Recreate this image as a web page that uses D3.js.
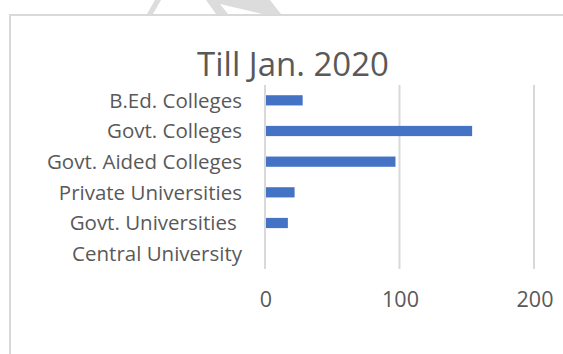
<!DOCTYPE html>
<html lang="en">
  <head>
    <meta charset="UTF-8" />
    <title>Till Jan. 2020</title>
    <script src="https://d3js.org/d3.v7.min.js"></script>
    <style>
      body {
        margin: 0;
        background: #fff;
        font-family: 'Open Sans', sans-serif;
      }
      .cat-label {
        font-size: 20.5px;
        fill: #595959;
        white-space: pre;
      }
      .tick-label {
        font-size: 21.5px;
        fill: #595959;
      }
      .title {
        font-size: 33px;
        fill: #595959;
      }
    </style>
  </head>
  <body>
    <svg width="563" height="354"></svg>

    <script>
      const categories = [
        'B.Ed. Colleges',
        'Govt. Colleges',
        'Govt. Aided Colleges',
        'Private Universities',
        'Govt. Universities ',
        'Central University',
      ];
      const values = [28, 154, 97, 22, 17, 0];
      const xTicks = [0, 100, 200];

      const data = categories.map((c, i) => ({ name: c, value: values[i] }));

      const svg = d3.select('svg');

      // chart frame (only top and left edges show in the picture)
      svg
        .append('path')
        .attr('d', 'M10,354V15H563')
        .attr('fill', 'none')
        .attr('stroke', '#d9d9d9')
        .attr('stroke-width', 2);

      // faint watermark fragments above the frame
      svg
        .append('polygon')
        .attr('points', '155,0 161,0 153,14 147,14')
        .attr('fill', '#dcdcdc');
      svg
        .append('polygon')
        .attr('points', '206,0 216,14 228,14 220,4 262,14 281,14 270,0')
        .attr('fill', '#dcdcdc');

      const x = d3.scaleLinear().domain([0, 200]).range([265, 534]);

      const y = d3
        .scaleBand()
        .domain(categories)
        .range([85, 269])
        .paddingInner(2 / 3)
        .paddingOuter(1 / 3);

      // gridlines
      svg
        .append('g')
        .selectAll('line')
        .data(xTicks)
        .enter()
        .append('line')
        .attr('x1', (d) => x(d))
        .attr('x2', (d) => x(d))
        .attr('y1', 85)
        .attr('y2', 269)
        .attr('stroke', '#d9d9d9')
        .attr('stroke-width', 2);

      // bars
      svg
        .append('g')
        .selectAll('rect')
        .data(data)
        .enter()
        .append('rect')
        .attr('x', x(0) + 1)
        .attr('y', (d) => y(d.name))
        .attr('width', (d) => Math.max(0, x(d.value) - x(0) - 1))
        .attr('height', y.bandwidth())
        .attr('fill', '#4472c4');

      // category labels
      svg
        .append('g')
        .selectAll('text')
        .data(categories)
        .enter()
        .append('text')
        .attr('class', 'cat-label')
        .attr('x', 242)
        .attr('y', (d) => y(d) + y.bandwidth() / 2)
        .attr('dy', '0.35em')
        .attr('text-anchor', 'end')
        .text((d) => d);

      // value axis labels
      svg
        .append('g')
        .selectAll('text')
        .data(xTicks)
        .enter()
        .append('text')
        .attr('class', 'tick-label')
        .attr('x', (d) => x(d) + 1)
        .attr('y', 307)
        .attr('text-anchor', 'middle')
        .text((d) => d);

      svg
        .append('text')
        .attr('class', 'title')
        .attr('x', 293)
        .attr('y', 76)
        .attr('text-anchor', 'middle')
        .text('Till Jan. 2020');
    </script>
  </body>
</html>
